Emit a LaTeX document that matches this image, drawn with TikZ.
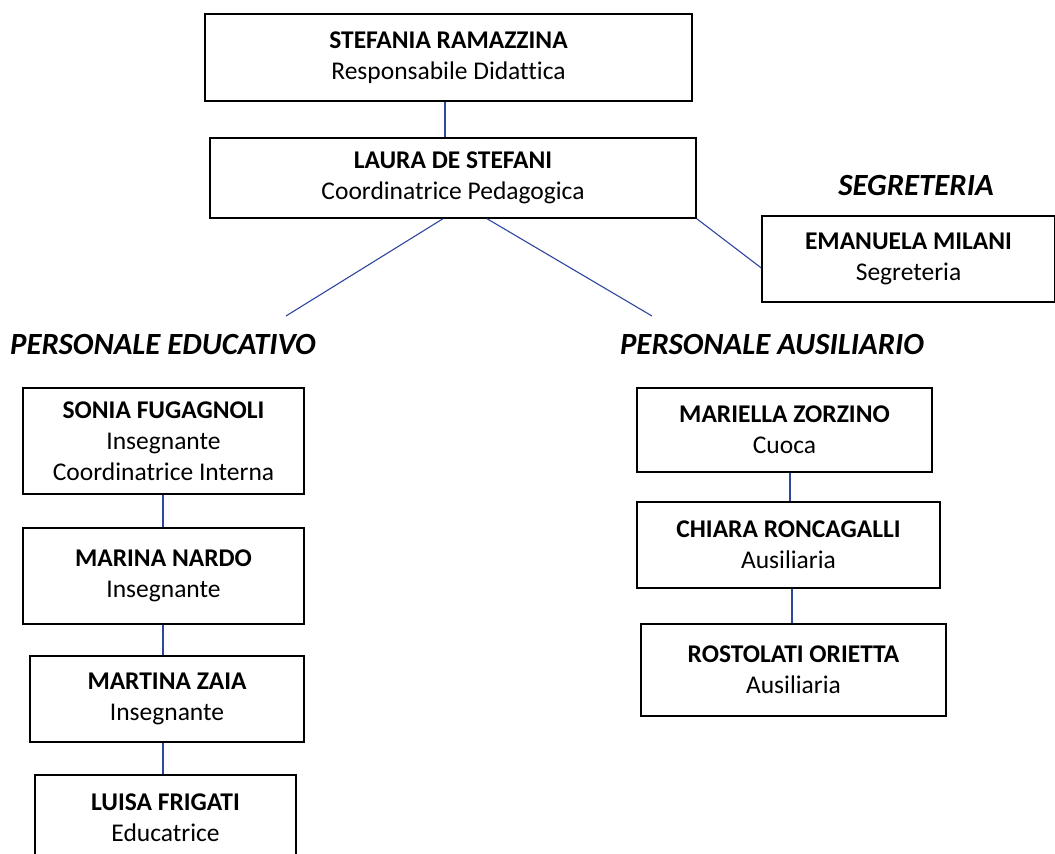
\documentclass[tikz,border=0pt]{standalone}
\usepackage{fontspec}
\setmainfont[Ligatures=NoCommon]{Carlito}
\definecolor{linkblue}{RGB}{45,70,160}
\tikzset{
  person/.style={draw=black, line width=1.4pt, rectangle, align=center, inner sep=0pt,
    font=\fontsize{25.5}{31}\selectfont},
  heading/.style={font=\fontsize{30.8}{34}\selectfont\bfseries\itshape, inner sep=0pt},
  link/.style={draw=linkblue, line width=1.1pt}
}
\newcommand{\nm}[1]{\textbf{#1}}
\begin{document}
\begin{tikzpicture}[x=1pt,y=-1pt]
\useasboundingbox (0,0) rectangle (1055,854);
\node[person, minimum width=487pt, minimum height=87pt] (n1) at (448.5,57.5) {\nm{STEFANIA RAMAZZINA}\\Responsabile Didattica};
\node[person, minimum width=486pt, minimum height=80pt] (n2) at (453,178) {\nm{LAURA DE STEFANI}\\Coordinatrice Pedagogica};
\node[person, minimum width=293pt, minimum height=86pt] (n3) at (908.5,259) {\nm{EMANUELA MILANI}\\Segreteria};
\node[heading] (hs) at (916,186) {SEGRETERIA};
\node[heading] (he) at (163,345) {PERSONALE EDUCATIVO};
\node[heading] (ha) at (772,345) {PERSONALE AUSILIARIO};
\node[person, minimum width=281pt, minimum height=106pt] (n4) at (163.5,441) {\nm{SONIA FUGAGNOLI}\\Insegnante\\Coordinatrice Interna};
\node[person, minimum width=281pt, minimum height=96pt] (n5) at (163.5,576) {\nm{MARINA NARDO}\\Insegnante};
\node[person, minimum width=274pt, minimum height=86pt] (n6) at (167,699) {\nm{MARTINA ZAIA}\\Insegnante};
\node[person, minimum width=261pt, minimum height=86pt] (n7) at (165.5,818) {\nm{LUISA FRIGATI}\\Educatrice};
\node[person, minimum width=295pt, minimum height=84pt] (n8) at (784.5,430) {\nm{MARIELLA ZORZINO}\\Cuoca};
\node[person, minimum width=303pt, minimum height=86pt] (n9) at (788.5,545) {\nm{CHIARA RONCAGALLI}\\Ausiliaria};
\node[person, minimum width=305pt, minimum height=92pt] (n10) at (793.5,670) {\nm{ROSTOLATI ORIETTA}\\Ausiliaria};
\coordinate (ce) at (286,316);
\coordinate (ca) at (652,316);
\draw[link] ([xshift=-3.5pt]n1.south) -- ([xshift=-8pt]n2.north);
\draw[link] ([xshift=-10pt]n2.south) -- (ce);
\draw[link] ([xshift=34pt]n2.south) -- (ca);
\draw[link] (n2.south east) -- ([yshift=-9pt]n3.west);
\draw[link] ([xshift=-0.5pt]n4.south) -- ([xshift=-0.5pt]n5.north);
\draw[link] ([xshift=-0.5pt]n5.south) -- ([xshift=-4pt]n6.north);
\draw[link] ([xshift=-4pt]n6.south) -- ([xshift=-2.5pt]n7.north);
\draw[link] ([xshift=5.5pt]n8.south) -- ([xshift=1.5pt]n9.north);
\draw[link] ([xshift=3.5pt]n9.south) -- ([xshift=-1.5pt]n10.north);
\end{tikzpicture}
\end{document}
